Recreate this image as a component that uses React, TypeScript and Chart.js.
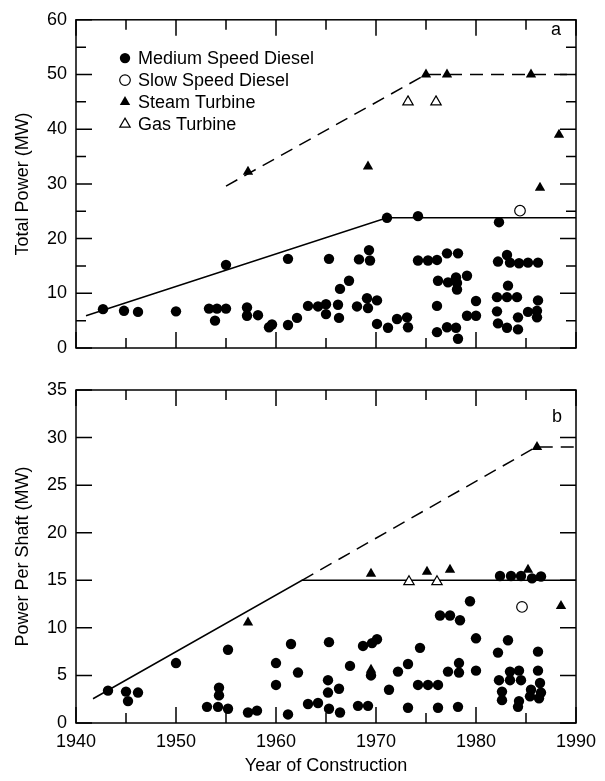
import React, { useEffect, useRef } from 'react';
import { Chart, registerables } from 'chart.js';

Chart.register(...registerables);

const FONT = "'Liberation Sans', Arial, Helvetica, sans-serif";

// ---------- Panel a: Total Power (MW) ----------
const mediumYearsA = [
  1942.7, 1944.8, 1946.2, 1950.0, 1955.0, 1953.3, 1954.1, 1955.0, 1953.9, 1957.1,
  1957.1, 1958.2, 1959.3, 1959.6, 1961.2, 1961.2, 1962.1, 1963.2, 1964.2, 1965.0,
  1965.0, 1965.3, 1968.3, 1969.3, 1969.4, 1966.2, 1966.3, 1966.4, 1967.3, 1968.1,
  1969.1, 1969.2, 1970.1, 1970.1, 1971.2, 1972.1, 1973.1, 1973.2, 1971.1, 1974.2,
  1982.3, 1974.2, 1975.2, 1976.1, 1977.1, 1978.2, 1976.2, 1977.2, 1978.0, 1978.1,
  1978.1, 1979.1, 1976.1, 1980.0, 1979.1, 1980.0, 1976.1, 1977.1, 1978.0, 1978.2,
  1982.2, 1983.1, 1983.4, 1984.3, 1985.2, 1986.2, 1983.2, 1982.1, 1983.1, 1984.1,
  1986.2, 1982.1, 1982.2, 1983.1, 1984.2, 1984.2, 1985.2, 1986.1, 1986.1,
];
const mediumPowerA = [
  7.1, 6.8, 6.6, 6.7, 15.2, 7.2, 7.2, 7.2, 5.0, 7.4,
  5.9, 6.0, 3.8, 4.3, 16.3, 4.2, 5.5, 7.7, 7.6, 8.0,
  6.2, 16.3, 16.2, 17.9, 16.0, 7.9, 5.5, 10.8, 12.3, 7.6,
  9.1, 7.3, 8.7, 4.4, 3.7, 5.3, 5.6, 3.8, 23.8, 24.1,
  23.0, 16.0, 16.0, 16.1, 17.3, 17.3, 12.3, 12.0, 12.9, 11.9,
  10.7, 13.2, 7.7, 8.6, 5.9, 5.9, 2.9, 3.8, 3.7, 1.7,
  15.8, 17.0, 15.6, 15.5, 15.6, 15.6, 11.4, 9.3, 9.3, 9.3,
  8.7, 6.7, 4.5, 3.7, 3.4, 5.6, 6.6, 6.8, 5.6,
];
const slowYearsA = [1984.4];
const slowPowerA = [25.1];
const steamYearsA = [1957.2, 1969.2, 1975.0, 1977.1, 1985.5, 1988.3, 1986.4];
const steamPowerA = [32.2, 33.2, 50.0, 50.0, 50.0, 39.0, 29.3];
const gasYearsA = [1973.2, 1976.0];
const gasPowerA = [45.0, 45.0];
const dieselTrendYearsA = [1941.0, 1971.1, 1990.0];
const dieselTrendPowerA = [5.9, 23.8, 23.8];
const steamTrendYearsA = [1955.0, 1975.0, 1990.0];
const steamTrendPowerA = [29.6, 50.0, 50.0];

// ---------- Panel b: Power Per Shaft (MW) ----------
const mediumYearsB = [
  1943.2, 1945.0, 1946.2, 1945.2, 1950.0, 1955.2, 1954.3, 1954.3, 1953.1, 1954.2,
  1955.2, 1957.2, 1958.1, 1960.0, 1960.0, 1961.2, 1961.5, 1962.2, 1963.2, 1964.2,
  1965.3, 1965.2, 1965.2, 1965.3, 1966.3, 1966.4, 1967.4, 1968.2, 1969.2, 1968.7,
  1969.6, 1970.1, 1969.5, 1971.3, 1972.2, 1973.2, 1973.2, 1974.2, 1974.4, 1975.2,
  1976.2, 1976.2, 1977.2, 1978.3, 1978.3, 1978.2, 1976.4, 1977.4, 1978.4, 1979.4,
  1980.0, 1980.0, 1982.2, 1983.2, 1982.3, 1982.6, 1982.6, 1983.4, 1983.4, 1984.3,
  1984.5, 1984.3, 1984.2, 1985.5, 1985.4, 1986.2, 1986.2, 1986.4, 1986.5, 1986.3,
  1982.4, 1983.5, 1984.5, 1985.6, 1986.5,
];
const mediumPowerB = [
  3.4, 3.3, 3.2, 2.3, 6.3, 7.7, 3.7, 2.9, 1.7, 1.7,
  1.5, 1.1, 1.3, 6.3, 4.0, 0.9, 8.3, 5.3, 2.0, 2.1,
  8.5, 4.5, 3.2, 1.5, 3.6, 1.1, 6.0, 1.8, 1.8, 8.1,
  8.4, 8.8, 5.0, 3.5, 5.4, 6.2, 1.6, 4.0, 7.9, 4.0,
  4.0, 1.6, 5.4, 6.3, 5.3, 1.7, 11.3, 11.3, 10.8, 12.8,
  8.9, 5.5, 7.4, 8.7, 4.5, 3.3, 2.4, 5.4, 4.5, 5.5,
  4.5, 2.3, 1.7, 3.5, 2.8, 7.5, 5.5, 4.2, 3.2, 2.6,
  15.45, 15.45, 15.45, 15.2, 15.4,
];
const slowYearsB = [1984.6];
const slowPowerB = [12.2];
const steamYearsB = [1957.2, 1969.5, 1969.5, 1975.1, 1977.4, 1985.2, 1986.1, 1988.5];
const steamPowerB = [10.55, 5.6, 15.7, 15.9, 16.1, 16.1, 29.0, 12.3];
const gasYearsB = [1973.3, 1976.1];
const gasPowerB = [14.85, 14.85];
const dieselTrendYearsB = [1941.7, 1962.6, 1990.0];
const dieselTrendPowerB = [2.55, 15.0, 15.0];
const steamTrendYearsB = [1962.6, 1986.0, 1990.0];
const steamTrendPowerB = [15.0, 29.0, 29.0];

// ---------- Axes ----------
const yearMin = 1940;
const yearMax = 1990;
const yearStep = 10;
const yearMinorStep = 5;
const powerMaxA = 60;
const powerStepA = 10;
const powerMinorStepA = 5;
const powerMaxB = 35;
const powerStepB = 5;

const legendLabels = ['Medium Speed Diesel', 'Slow Speed Diesel', 'Steam Turbine', 'Gas Turbine'];
const legendShapes = ['circle', 'circle', 'triangle', 'triangle'];
const legendFilled = [true, false, true, false];

const zip = (xs: number[], ys: number[]) => xs.map((x, i) => ({ x, y: ys[i] }));

const MAJOR = 16;
const MINOR = 10;

function drawMarker(ctx: CanvasRenderingContext2D, shape: string, filled: boolean, x: number, y: number) {
  ctx.beginPath();
  if (shape === 'circle') {
    ctx.arc(x, y, filled ? 5.2 : 5.3, 0, Math.PI * 2);
  } else {
    const r = 6;
    for (let k = 0; k < 3; k++) {
      const ang = (k * 2 * Math.PI) / 3;
      const px = x + Math.sin(ang) * r;
      const py = y - Math.cos(ang) * r;
      if (k === 0) ctx.moveTo(px, py);
      else ctx.lineTo(px, py);
    }
    ctx.closePath();
  }
  if (filled) {
    ctx.fillStyle = '#000';
    ctx.fill();
  } else {
    ctx.fillStyle = '#fff';
    ctx.fill();
    ctx.lineWidth = 1.2;
    ctx.strokeStyle = '#000';
    ctx.stroke();
  }
}

const framePlugin = {
  id: 'frame',
  beforeDatasetsDraw(chart: any, _args: any, opts: any) {
    const { ctx, chartArea: a, scales } = chart;
    const xs = scales.x;
    const ys = scales.y;
    ctx.save();
    ctx.strokeStyle = '#000';
    ctx.lineWidth = 1.5;
    ctx.beginPath();
    for (let v = xs.min; v <= xs.max + 1e-6; v += opts.xStep) {
      const px = xs.getPixelForValue(v);
      const len = Math.abs((v - xs.min) % opts.xMajor) < 1e-6 ? MAJOR : MINOR;
      ctx.moveTo(px, a.bottom);
      ctx.lineTo(px, a.bottom - len);
      ctx.moveTo(px, a.top);
      ctx.lineTo(px, a.top + len);
    }
    for (let v = ys.min; v <= ys.max + 1e-6; v += opts.yStep) {
      const py = ys.getPixelForValue(v);
      const len = Math.abs((v - ys.min) % opts.yMajor) < 1e-6 ? MAJOR : MINOR;
      ctx.moveTo(a.left, py);
      ctx.lineTo(a.left + len, py);
      ctx.moveTo(a.right, py);
      ctx.lineTo(a.right - len, py);
    }
    ctx.stroke();
    ctx.strokeRect(a.left, a.top, a.right - a.left, a.bottom - a.top);
    ctx.restore();
  },
  afterDraw(chart: any, _args: any, opts: any) {
    const { ctx, chartArea: a } = chart;
    ctx.save();
    ctx.fillStyle = '#000';
    ctx.font = `18px ${FONT}`;
    ctx.textAlign = 'center';
    ctx.textBaseline = 'alphabetic';
    ctx.fillText(opts.label, a.right - opts.labelDx, a.top + opts.labelDy);
    if (opts.showKey) {
      ctx.textAlign = 'left';
      ctx.textBaseline = 'middle';
      legendLabels.forEach((t, i) => {
        const y = a.top + 38.3 + i * 22;
        drawMarker(ctx, legendShapes[i], legendFilled[i], a.left + 49, y);
        ctx.fillStyle = '#000';
        ctx.font = `18px ${FONT}`;
        ctx.fillText(t, a.left + 62, y + 1);
      });
    }
    ctx.restore();
  },
};

function markerSets(
  mY: number[], mP: number[], sY: number[], sP: number[],
  tY: number[], tP: number[], gY: number[], gP: number[],
  d1Y: number[], d1P: number[], d2Y: number[], d2P: number[],
) {
  return [
    {
      label: legendLabels[0], data: zip(mY, mP), pointStyle: 'circle', pointRadius: 5.2,
      backgroundColor: '#000', borderColor: '#000', borderWidth: 0, order: 0,
    },
    {
      label: legendLabels[1], data: zip(sY, sP), pointStyle: 'circle', pointRadius: 5.3,
      backgroundColor: '#fff', borderColor: '#000', borderWidth: 1.2, order: 0,
    },
    {
      label: legendLabels[2], data: zip(tY, tP), pointStyle: 'triangle', pointRadius: 6,
      backgroundColor: '#000', borderColor: '#000', borderWidth: 0, order: 0,
    },
    {
      label: legendLabels[3], data: zip(gY, gP), pointStyle: 'triangle', pointRadius: 6,
      backgroundColor: '#fff', borderColor: '#000', borderWidth: 1.2, order: 0,
    },
    {
      label: 'Diesel trend', data: zip(d1Y, d1P), showLine: true, pointRadius: 0,
      borderColor: '#000', borderWidth: 1.5, backgroundColor: '#000', order: 5,
    },
    {
      label: 'Steam trend', data: zip(d2Y, d2P), showLine: true, pointRadius: 0,
      borderColor: '#000', borderWidth: 1.5, borderDash: [13, 8], backgroundColor: '#000', order: 5,
    },
  ];
}

const tickFont = { family: FONT, size: 18 };

export default function App() {
  const topRef = useRef<HTMLCanvasElement>(null);
  const botRef = useRef<HTMLCanvasElement>(null);

  useEffect(() => {
    const chartA = new Chart(topRef.current as HTMLCanvasElement, {
      type: 'scatter',
      data: {
        datasets: markerSets(
          mediumYearsA, mediumPowerA, slowYearsA, slowPowerA, steamYearsA, steamPowerA,
          gasYearsA, gasPowerA, dieselTrendYearsA, dieselTrendPowerA, steamTrendYearsA, steamTrendPowerA,
        ) as any,
      },
      options: {
        animation: false,
        responsive: false,
        events: [],
        layout: { padding: { left: 0, top: 14, right: 29, bottom: 22 } },
        plugins: {
          legend: { display: false },
          tooltip: { enabled: false },
          frame: { xStep: yearMinorStep, xMajor: yearStep, yStep: powerMinorStepA, yMajor: powerStepA, label: 'a', labelDx: 20, labelDy: 15, showKey: true },
        } as any,
        scales: {
          x: { type: 'linear', min: yearMin, max: yearMax, display: false },
          y: {
            type: 'linear', min: 0, max: powerMaxA,
            afterFit: (s: any) => { s.width = 76; },
            ticks: { stepSize: powerStepA, font: tickFont, color: '#000', padding: 9 },
            grid: { display: false, drawTicks: false },
            border: { display: false },
            title: { display: true, text: 'Total Power (MW)', font: tickFont, color: '#000', padding: { top: 12, bottom: 0 } },
          },
        } as any,
      },
      plugins: [framePlugin as any],
    });

    const chartB = new Chart(botRef.current as HTMLCanvasElement, {
      type: 'scatter',
      data: {
        datasets: markerSets(
          mediumYearsB, mediumPowerB, slowYearsB, slowPowerB, steamYearsB, steamPowerB,
          gasYearsB, gasPowerB, dieselTrendYearsB, dieselTrendPowerB, steamTrendYearsB, steamTrendPowerB,
        ) as any,
      },
      options: {
        animation: false,
        responsive: false,
        events: [],
        layout: { padding: { left: 0, top: 20, right: 29, bottom: 0 } },
        plugins: {
          legend: { display: false },
          tooltip: { enabled: false },
          frame: { xStep: yearMinorStep, xMajor: yearStep, yStep: powerStepB, yMajor: powerStepB, label: 'b', labelDx: 19, labelDy: 32, showKey: false },
        } as any,
        scales: {
          x: {
            type: 'linear', min: yearMin, max: yearMax,
            afterFit: (s: any) => { s.height = 58; },
            ticks: { stepSize: yearStep, font: tickFont, color: '#000', padding: 8, maxRotation: 0, autoSkip: false, callback: (v: any) => String(v) },
            grid: { display: false, drawTicks: false },
            border: { display: false },
            title: { display: true, text: 'Year of Construction', font: tickFont, color: '#000', padding: { top: 0, bottom: 4 } },
          },
          y: {
            type: 'linear', min: 0, max: powerMaxB,
            afterFit: (s: any) => { s.width = 76; },
            ticks: { stepSize: powerStepB, font: tickFont, color: '#000', padding: 9 },
            grid: { display: false, drawTicks: false },
            border: { display: false },
            title: { display: true, text: 'Power Per Shaft (MW)', font: tickFont, color: '#000', padding: { top: 12, bottom: 0 } },
          },
        } as any,
      },
      plugins: [framePlugin as any],
    });

    return () => {
      chartA.destroy();
      chartB.destroy();
    };
  }, []);

  return (
    <div style={{ position: 'absolute', left: 0, top: 0, width: 605, height: 781, overflow: 'hidden', background: '#fff' }}>
      <canvas ref={topRef} width={605} height={370} style={{ position: 'absolute', left: 0, top: 0 }} />
      <canvas ref={botRef} width={605} height={411} style={{ position: 'absolute', left: 0, top: 370 }} />
    </div>
  );
}
